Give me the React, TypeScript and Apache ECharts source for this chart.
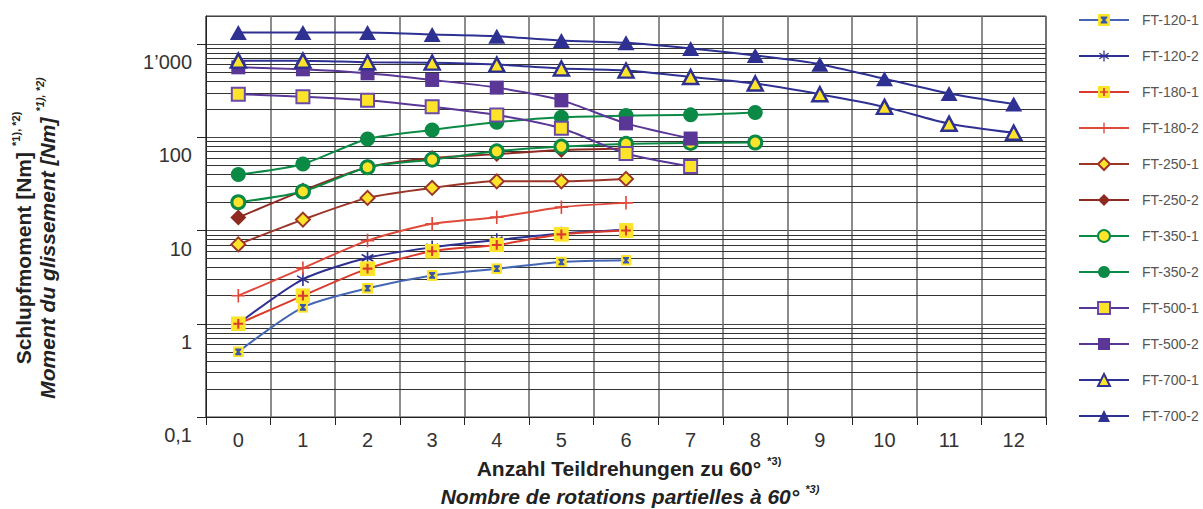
import React, { useEffect, useRef } from 'react';
import * as echarts from 'echarts';

const categories = ['0', '1', '2', '3', '4', '5', '6', '7', '8', '9', '10', '11', '12'];

const ft120_1 = [0.5, 1.5, 2.4, 3.3, 3.9, 4.6, 4.8];
const ft120_2 = [1.0, 3.0, 5.1, 6.6, 7.9, 9.3, 10.2];
const ft180_1 = [1.0, 2.0, 3.9, 6.0, 7.0, 9.1, 10.0];
const ft180_2 = [2.0, 3.95, 7.8, 11.8, 13.9, 17.8, 19.8];
const ft250_1 = [7.1, 13.1, 22.4, 28.7, 33.7, 33.7, 35.8];
const ft250_2 = [13.8, 26.8, 47.7, 60, 66, 73, 76];
const ft350_1 = [20.1, 26.2, 47.7, 57.6, 70.7, 79.5, 85, 87, 88];
const ft350_2 = [39.8, 51.8, 96, 120, 145, 164, 171, 174, 185];
const ft500_1 = [290, 273, 250, 212, 173, 125, 67, 48.6];
const ft500_2 = [563, 536, 486, 412, 341, 249, 141, 97];
const ft700_1 = [664, 664, 638, 632, 602, 546, 519, 444, 377, 290, 212, 140, 112];
const ft700_2 = [1330, 1330, 1330, 1265, 1211, 1092, 1031, 896, 754, 609, 424, 295, 227];

const yTickLabels: Record<string, string> = { '-1': '0,1', '0': '1', '1': '10', '2': '100', '3': '1\u2019000' };
const minorDecades = [0.1, 1, 10, 100];
const minorSteps = [2, 3, 4, 5, 6, 7, 8, 9];

const YELLOW = '#fde42a';
const NAVY = '#2e3192';

const svgSym = (s: string) =>
  'image://data:image/svg+xml;charset=utf-8,' +
  encodeURIComponent(`<svg xmlns="http://www.w3.org/2000/svg" width="20" height="20" viewBox="0 0 20 20">${s}</svg>`);

const hourglassSym = svgSym(
  `<rect width="20" height="20" fill="${YELLOW}"/><path d="M4.5 4H15.5V6.5L12 10L15.5 13.5V16H4.5V13.5L8 10L4.5 6.5Z" fill="#3a56a8"/>`
);
const asteriskSym = svgSym(
  `<g stroke="${NAVY}" stroke-width="2.2" stroke-linecap="butt"><line x1="10" y1="1" x2="10" y2="19"/><line x1="2.2" y1="5.5" x2="17.8" y2="14.5"/><line x1="2.2" y1="14.5" x2="17.8" y2="5.5"/></g>`
);
const plusSqSym = svgSym(
  `<rect width="20" height="20" fill="${YELLOW}"/><path d="M10 3.5V16.5M3.5 10H16.5" stroke="#dc3a2c" stroke-width="2.8"/>`
);
const plusSym = svgSym(`<path d="M10 1V19M1 10H19" stroke="#e04a3b" stroke-width="2.2"/>`);

interface Def {
  name: string;
  data: number[];
  line: string;
  symbol: string;
  size: number | number[];
  item: any;
}

const defs: Def[] = [
  { name: 'FT-120-1', data: ft120_1, line: '#4466b4', symbol: hourglassSym, size: 11, item: { color: '#4466b4' } },
  { name: 'FT-120-2', data: ft120_2, line: NAVY, symbol: asteriskSym, size: 15, item: { color: NAVY } },
  { name: 'FT-180-1', data: ft180_1, line: '#d93a2b', symbol: plusSqSym, size: 15, item: { color: '#d93a2b' } },
  { name: 'FT-180-2', data: ft180_2, line: '#e04a3b', symbol: plusSym, size: 15, item: { color: '#e04a3b' } },
  { name: 'FT-250-1', data: ft250_1, line: '#9b3528', symbol: 'diamond', size: 14, item: { color: YELLOW, borderColor: '#9b3528', borderWidth: 2 } },
  { name: 'FT-250-2', data: ft250_2, line: '#8e2a20', symbol: 'diamond', size: 16, item: { color: '#8e2a20' } },
  { name: 'FT-350-1', data: ft350_1, line: '#0b8a46', symbol: 'circle', size: 13, item: { color: YELLOW, borderColor: '#0b8a46', borderWidth: 3 } },
  { name: 'FT-350-2', data: ft350_2, line: '#0b8a46', symbol: 'circle', size: 15, item: { color: '#0b8a46' } },
  { name: 'FT-500-1', data: ft500_1, line: '#5a3796', symbol: 'rect', size: 13, item: { color: YELLOW, borderColor: '#6a4aa8', borderWidth: 2 } },
  { name: 'FT-500-2', data: ft500_2, line: '#5a3796', symbol: 'rect', size: 14, item: { color: '#5a3796' } },
  { name: 'FT-700-1', data: ft700_1, line: NAVY, symbol: 'triangle', size: [15, 14], item: { color: YELLOW, borderColor: NAVY, borderWidth: 2.5 } },
  { name: 'FT-700-2', data: ft700_2, line: NAVY, symbol: 'triangle', size: [17, 15], item: { color: NAVY } },
];

const minorLines: { yAxis: number }[] = [];
minorDecades.forEach((d) => minorSteps.forEach((m) => minorLines.push({ yAxis: +(d * m).toPrecision(3) })));

const FONT = 'Liberation Sans';

function buildOption(): any {
  const series: any[] = defs.map((d, i) => ({
    name: d.name,
    type: 'line',
    data: d.data,
    smooth: 0.25,
    symbol: d.symbol,
    symbolSize: d.size,
    showAllSymbol: true,
    lineStyle: { color: d.line, width: 2 },
    itemStyle: d.item,
    z: 3,
    ...(i === 0
      ? {
          markLine: {
            silent: true,
            z: 1,
            symbol: ['none', 'none'],
            label: { show: false },
            lineStyle: { color: '#333', width: 1, type: 'solid' },
            emphasis: { disabled: true },
            data: minorLines,
          },
        }
      : {}),
  }));

  return {
    animation: false,
    backgroundColor: '#ffffff',
    grid: {
      left: 206,
      top: 16,
      width: 840,
      height: 401,
      show: true,
      borderColor: '#333',
      borderWidth: 1,
    },
    legend: {
      orient: 'vertical',
      left: 1073,
      top: 8,
      itemWidth: 50,
      itemHeight: 15,
      itemGap: 22,
      data: defs.map((d) => d.name),
      textStyle: { fontSize: 14, color: '#555', fontFamily: FONT, padding: [0, 0, 0, 8] },
      selectedMode: false,
    },
    xAxis: {
      type: 'category',
      data: categories,
      boundaryGap: true,
      axisLine: { show: true, lineStyle: { color: '#222', width: 1 } },
      axisTick: { show: true, length: 8, interval: 0, lineStyle: { color: '#222' } },
      axisLabel: { fontSize: 20, color: '#333', fontFamily: FONT, margin: 13, interval: 0 },
      splitLine: { show: true, interval: 0, lineStyle: { color: '#666', width: 1.5 } },
    },
    yAxis: {
      type: 'log',
      logBase: 10,
      min: 0.1,
      max: 2000,
      axisLine: { show: true, lineStyle: { color: '#222', width: 1 } },
      axisTick: { show: true, length: 9, lineStyle: { color: '#222' } },
      axisLabel: {
        fontSize: 20,
        color: '#333',
        fontFamily: FONT,
        margin: 14,
        verticalAlign: 'top',
        padding: [8, 0, 0, 0],
        showMaxLabel: false,
        formatter: (v: number) => {
          const e = Math.log10(v);
          const r = Math.round(e);
          if (Math.abs(e - r) > 0.01) return '';
          return yTickLabels[String(r)] ?? '';
        },
      },
      splitLine: { show: true, lineStyle: { color: '#444', width: 1.2 } },
    },
    graphic: [
      {
        type: 'text',
        x: 23,
        y: 238,
        rotation: Math.PI / 2,
        style: {
          text: '{b|Schlupfmoment [Nm]}{s|  *1), *2)}',
          align: 'center',
          verticalAlign: 'middle',
          fill: '#222',
          rich: {
            b: { fontSize: 21, fontWeight: 'bold', fontFamily: FONT, lineHeight: 26, fill: '#222' },
            s: { fontSize: 11, fontWeight: 'bold', fontFamily: FONT, verticalAlign: 'top', fill: '#222' },
          },
        },
      },
      {
        type: 'text',
        x: 47,
        y: 238,
        rotation: Math.PI / 2,
        style: {
          text: '{b|Moment du glissement [Nm]}{s|  *1), *2)}',
          align: 'center',
          verticalAlign: 'middle',
          fill: '#222',
          rich: {
            b: { fontSize: 21, fontWeight: 'bold', fontStyle: 'italic', fontFamily: FONT, lineHeight: 26, fill: '#222' },
            s: { fontSize: 11, fontWeight: 'bold', fontStyle: 'italic', fontFamily: FONT, verticalAlign: 'top', fill: '#222' },
          },
        },
      },
      {
        type: 'text',
        x: 629,
        y: 468,
        style: {
          text: '{b|Anzahl Teildrehungen zu 60°}{s|  *3)}',
          align: 'center',
          verticalAlign: 'middle',
          fill: '#222',
          rich: {
            b: { fontSize: 21, fontWeight: 'bold', fontFamily: FONT, lineHeight: 26, fill: '#222' },
            s: { fontSize: 11, fontWeight: 'bold', fontFamily: FONT, verticalAlign: 'top', fill: '#222' },
          },
        },
      },
      {
        type: 'text',
        x: 630,
        y: 496,
        style: {
          text: '{b|Nombre de rotations partielles à 60°}{s|  *3)}',
          align: 'center',
          verticalAlign: 'middle',
          fill: '#222',
          rich: {
            b: { fontSize: 21, fontWeight: 'bold', fontStyle: 'italic', fontFamily: FONT, lineHeight: 26, fill: '#222' },
            s: { fontSize: 11, fontWeight: 'bold', fontStyle: 'italic', fontFamily: FONT, verticalAlign: 'top', fill: '#222' },
          },
        },
      },
    ],
    series,
  };
}

export default function App() {
  const ref = useRef<HTMLDivElement>(null);
  useEffect(() => {
    document.body.style.margin = '0';
    const chart = echarts.init(ref.current as HTMLDivElement, null, { renderer: 'svg' });
    chart.setOption(buildOption());
    return () => chart.dispose();
  }, []);
  return <div ref={ref} style={{ width: 1203, height: 509 }} />;
}
